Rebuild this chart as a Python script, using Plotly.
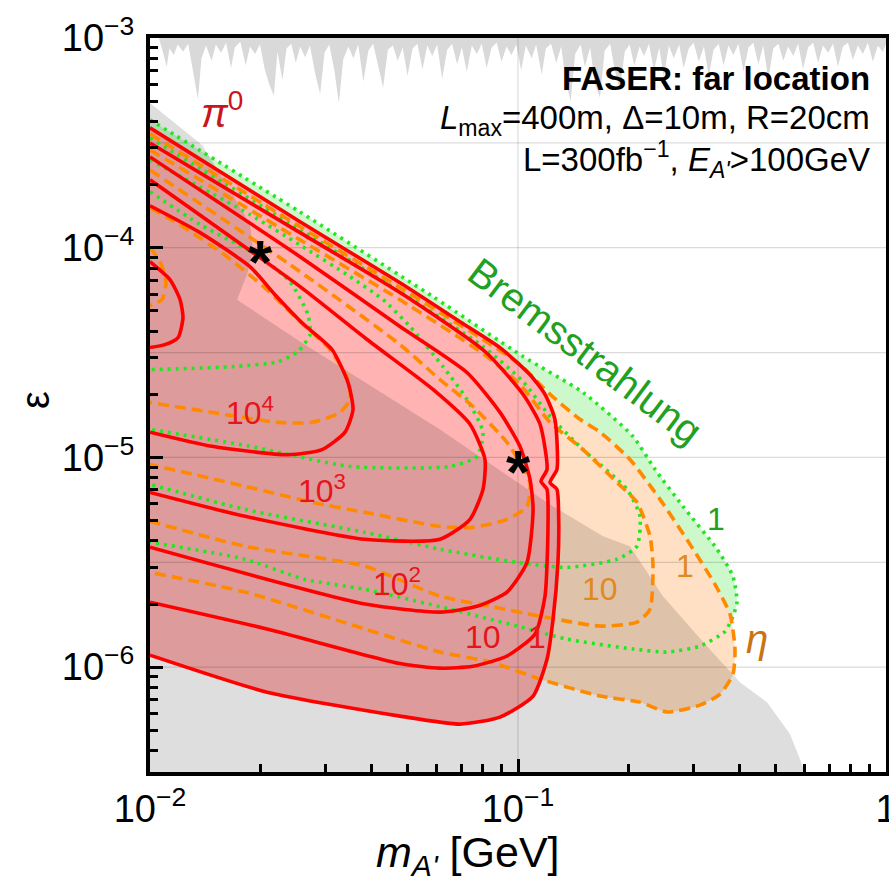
import math
import plotly.graph_objects as go

# ---------------- data (mass m [GeV], epsilon) ----------------
# pi0 contours (solid red), levels 1,10,1e2,1e3,1e4,1e5
R1_m = [0.0100, 0.02557, 0.04779, 0.06958, 0.08935, 0.1078, 0.1184, 0.1260, 0.1276, 0.1222, 0.1276, 0.1290, 0.1284, 0.1245, 0.1199, 0.1099, 0.08935, 0.06958, 0.04779, 0.02079, 0.0100]
R1_e = [3.73e-4, 1.33e-4, 6.81e-5, 4.44e-5, 3.34e-5, 2.48e-5, 2.00e-5, 1.52e-5, 8.77e-6, 7.60e-6, 7.04e-6, 5.07e-6, 3.16e-6, 1.69e-6, 1.09e-6, 7.28e-7, 5.78e-7, 5.35e-7, 5.84e-7, 7.60e-7, 1.14e-6]
R10_m = [0.0100, 0.02557, 0.04779, 0.08133, 0.1032, 0.1148, 0.1199, 0.1155, 0.1199, 0.1206, 0.1184, 0.1113, 0.09335, 0.07546, 0.06138, 0.04779, 0.02079, 0.0100]
R10_e = [3.16e-4, 1.18e-4, 6.11e-5, 3.20e-5, 2.00e-5, 1.44e-5, 8.77e-6, 7.69e-6, 7.04e-6, 4.54e-6, 2.18e-6, 1.44e-6, 1.13e-6, 1.01e-6, 9.89e-7, 1.04e-6, 1.52e-6, 2.04e-6]
R100_m = [0.0100, 0.02557, 0.04779, 0.07267, 0.08935, 0.1012, 0.1078, 0.1099, 0.1058, 0.09335, 0.07737, 0.06138, 0.03839, 0.0100]
R100_e = [2.71e-4, 9.06e-5, 4.21e-5, 2.54e-5, 1.64e-5, 1.13e-5, 7.86e-6, 5.65e-6, 3.16e-6, 2.28e-6, 1.95e-6, 1.83e-6, 2.00e-6, 3.73e-6]
R1e3_m = [0.0100, 0.02557, 0.03889, 0.05875, 0.07406, 0.08133, 0.08032, 0.07406, 0.06138, 0.03839, 0.01812, 0.0100]
R1e3_e = [2.11e-4, 6.52e-5, 3.65e-5, 2.11e-5, 1.44e-5, 9.78e-6, 7.04e-6, 5.07e-6, 4.07e-6, 4.07e-6, 5.24e-6, 6.81e-6]
R1e4_m = [0.0100, 0.01368, 0.01869, 0.02186, 0.02588, 0.03123, 0.03451, 0.03561, 0.03388, 0.02934, 0.02371, 0.01474, 0.0100]
R1e4_e = [1.585e-4, 1.18e-4, 8.12e-5, 5.97e-5, 4.39e-5, 3.27e-5, 2.28e-5, 1.69e-5, 1.32e-5, 1.09e-5, 1.03e-5, 1.13e-5, 1.32e-5]
R1e5_m = [0.0100, 0.01133, 0.01207, 0.01229, 0.01192, 0.01098, 0.0100]
R1e5_e = [8.58e-5, 7.04e-5, 5.65e-5, 4.64e-5, 3.73e-5, 3.45e-5, 3.34e-5]

# eta contours (dashed orange), levels 1,10,1e2,1e3,1e4
O1_m = [0.0100, 0.02557, 0.04779, 0.07884, 0.1012, 0.1222, 0.1474, 0.1671, 0.2015, 0.2432, 0.2934, 0.3430, 0.3768, 0.3887, 0.3838, 0.3540, 0.3123, 0.2541, 0.2145, 0.1671, 0.1148, 0.08394, 0.06138, 0.03839, 0.01812, 0.0100]
O1_e = [3.49e-4, 1.26e-4, 6.45e-5, 3.73e-5, 2.77e-5, 2.00e-5, 1.52e-5, 1.32e-5, 9.78e-6, 6.31e-6, 3.85e-6, 2.48e-6, 1.79e-6, 1.22e-6, 9.26e-7, 7.44e-7, 6.59e-7, 6.11e-7, 6.81e-7, 7.28e-7, 8.77e-7, 1.06e-6, 1.18e-6, 1.52e-6, 2.28e-6, 2.83e-6]
O10_m = [0.0100, 0.02557, 0.04779, 0.07884, 0.1012, 0.1222, 0.1502, 0.1858, 0.2105, 0.2284, 0.2327, 0.2284, 0.2105, 0.1671, 0.1148, 0.08394, 0.06138, 0.03839, 0.01812, 0.0100]
O10_e = [2.93e-4, 1.09e-4, 5.65e-5, 3.20e-5, 2.23e-5, 1.47e-5, 1.09e-5, 7.60e-6, 6.11e-6, 4.21e-6, 3.03e-6, 1.89e-6, 1.64e-6, 1.57e-6, 1.75e-6, 1.95e-6, 2.18e-6, 3.03e-6, 3.77e-6, 4.96e-6]
O100_m = [0.0100, 0.02557, 0.04779, 0.06138, 0.07546, 0.09335, 0.1012, 0.1078, 0.1058, 0.09335, 0.07546, 0.06138, 0.03839, 0.02755, 0.01812, 0.0100]
O100_e = [2.35e-4, 7.69e-5, 3.45e-5, 2.35e-5, 1.75e-5, 1.18e-5, 9.47e-6, 7.60e-6, 5.84e-6, 5.07e-6, 4.64e-6, 4.69e-6, 5.47e-6, 6.11e-6, 7.28e-6, 9.26e-6]
O1e3_m = [0.0100, 0.01229, 0.01619, 0.02079, 0.02557, 0.03084, 0.03451, 0.03496, 0.03283, 0.02755, 0.02227, 0.01474, 0.0100]
O1e3_e = [1.55e-4, 1.26e-4, 9.06e-5, 6.31e-5, 4.44e-5, 3.27e-5, 2.35e-5, 1.89e-5, 1.64e-5, 1.47e-5, 1.47e-5, 1.64e-5, 1.83e-5]
O1e4_m = [0.0100, 0.01065, 0.01105, 0.01078, 0.0100]
O1e4_e = [1.00e-4, 8.58e-5, 6.88e-5, 5.65e-5, 5.30e-5]

# Bremsstrahlung contours (dotted green), levels 1,10,1e2,1e3
G1_m = [0.0100, 0.02557, 0.05875, 0.1032, 0.1502, 0.2053, 0.2357, 0.2808, 0.3474, 0.3838, 0.3936, 0.3838, 0.3652, 0.3123, 0.2541, 0.2053, 0.1359, 0.09938, 0.06535, 0.03839, 0.02637, 0.01812, 0.0100]
G1_e = [4.07e-4, 1.48e-4, 5.84e-5, 3.03e-5, 2.04e-5, 1.26e-5, 8.77e-6, 5.84e-6, 3.65e-6, 2.71e-6, 2.04e-6, 1.75e-6, 1.48e-6, 1.26e-6, 1.18e-6, 1.22e-6, 1.36e-6, 1.57e-6, 1.89e-6, 2.35e-6, 2.62e-6, 3.27e-6, 3.94e-6]
G10_m = [0.0100, 0.02557, 0.04779, 0.08032, 0.1032, 0.1222, 0.1502, 0.1978, 0.2145, 0.2105, 0.1858, 0.1359, 0.09938, 0.06138, 0.03839, 0.01812, 0.0100]
G10_e = [3.34e-4, 1.22e-4, 6.17e-5, 3.38e-5, 2.30e-5, 1.57e-5, 1.09e-5, 7.04e-6, 5.24e-6, 3.77e-6, 3.27e-6, 2.99e-6, 3.16e-6, 3.65e-6, 4.39e-6, 5.65e-6, 7.44e-6]
G100_m = [0.0100, 0.01869, 0.02557, 0.03496, 0.04298, 0.05088, 0.06256, 0.07267, 0.08032, 0.07737, 0.06535, 0.03496, 0.01869, 0.0100]
G100_e = [2.62e-4, 1.44e-4, 1.03e-4, 7.28e-5, 5.65e-5, 4.21e-5, 2.71e-5, 1.89e-5, 1.32e-5, 1.01e-5, 9.06e-6, 9.06e-6, 1.13e-5, 1.36e-5]
G1e3_m = [0.0100, 0.01368, 0.01990, 0.02401, 0.02687, 0.02722, 0.02525, 0.02227, 0.01681, 0.0100]
G1e3_e = [1.85e-4, 1.29e-4, 9.06e-5, 6.88e-5, 4.80e-5, 3.85e-5, 3.20e-5, 2.86e-5, 2.71e-5, 2.62e-5]

# excluded regions (gray): beam dumps (bottom) and prompt searches (top, jagged)
dump_m = [0.0100, 0.01169, 0.01385, 0.01650, 0.01869, 0.01906, 0.01835, 0.01724, 0.02557, 0.03839, 0.06138, 0.1222, 0.1702, 0.2015, 0.2186, 0.2477, 0.3181, 0.4011, 0.4750, 0.5484, 0.6100, 0.0100]
dump_e = [4.90e-4, 3.94e-4, 3.09e-4, 1.89e-4, 1.29e-4, 9.78e-5, 7.44e-5, 5.65e-5, 3.57e-5, 2.28e-5, 1.36e-5, 5.97e-6, 4.21e-6, 3.77e-6, 3.03e-6, 2.18e-6, 1.32e-6, 8.48e-7, 6.81e-7, 4.80e-7, 3.0e-7, 3.0e-7]

top_m = [0.0106, 0.0108, 0.0111, 0.0113, 0.0116, 0.0119, 0.0123, 0.0127, 0.0131, 0.0135, 0.0138, 0.0142, 0.0147, 0.0151, 0.0156, 0.0161, 0.0166, 0.0170, 0.0176, 0.0182, 0.0187, 0.0193, 0.0199, 0.0205, 0.0211, 0.0217, 0.0222, 0.0229, 0.0235, 0.0242, 0.0249, 0.0256, 0.0264, 0.0272, 0.0281, 0.0290, 0.0298, 0.0307, 0.0317, 0.0326, 0.0335, 0.0346, 0.0357, 0.0368, 0.0380, 0.0392, 0.0404, 0.0417, 0.0430, 0.0443, 0.0457, 0.0471, 0.0486, 0.0501, 0.0517, 0.0533, 0.0550, 0.0567, 0.0585, 0.0603, 0.0622, 0.0642, 0.0662, 0.0683, 0.0704, 0.0726, 0.0749, 0.0773, 0.0797, 0.0822, 0.0848, 0.0875, 0.0902, 0.0931, 0.0960, 0.0990, 0.102, 0.105, 0.109, 0.112, 0.116, 0.119, 0.123, 0.127, 0.131, 0.135, 0.139, 0.143, 0.148, 0.152, 0.157, 0.162, 0.167, 0.172, 0.178, 0.183, 0.189, 0.195, 0.201, 0.207, 0.214, 0.220, 0.227, 0.234, 0.242, 0.249, 0.257, 0.265, 0.274, 0.282, 0.291, 0.300, 0.310, 0.320, 0.330, 0.340, 0.351, 0.362, 0.373, 0.385, 0.397, 0.410, 0.423, 0.436, 0.450, 0.464, 0.479, 0.494, 0.510, 0.526, 0.542, 0.560, 0.577, 0.595, 0.614, 0.634, 0.654, 0.674, 0.696, 0.718, 0.740, 0.764, 0.788, 0.813, 0.839, 0.865, 0.893, 0.921, 0.950, 0.980, 1.0]
top_e = [9.8e-4, 8.8e-4, 7.3e-4, 8.9e-4, 8.3e-4, 9.3e-4, 8.6e-4, 9.4e-4, 7.0e-4, 5.1e-4, 8.0e-4, 9.2e-4, 7.8e-4, 9.3e-4, 8.5e-4, 9.5e-4, 7.2e-4, 9.0e-4, 9.6e-4, 7.4e-4, 9.1e-4, 8.4e-4, 9.3e-4, 7.1e-4, 6.0e-4, 5.3e-4, 8.6e-4, 6.3e-4, 8.9e-4, 9.4e-4, 7.6e-4, 9.1e-4, 8.1e-4, 9.2e-4, 6.8e-4, 5.4e-4, 8.5e-4, 9.3e-4, 7.0e-4, 4.9e-4, 7.9e-4, 9.1e-4, 8.0e-4, 9.3e-4, 6.2e-4, 8.7e-4, 9.4e-4, 7.3e-4, 5.8e-4, 8.8e-4, 9.2e-4, 7.8e-4, 9.0e-4, 6.6e-4, 8.9e-4, 9.4e-4, 7.1e-4, 9.2e-4, 8.2e-4, 9.3e-4, 6.4e-4, 8.8e-4, 9.4e-4, 7.5e-4, 9.0e-4, 6.9e-4, 9.2e-4, 8.4e-4, 9.4e-4, 7.2e-4, 9.0e-4, 9.5e-4, 7.7e-4, 9.1e-4, 8.3e-4, 9.3e-4, 7.0e-4, 9.2e-4, 8.0e-4, 9.3e-4, 6.7e-4, 8.9e-4, 9.4e-4, 7.6e-4, 9.1e-4, 6.2e-4, 5.0e-4, 8.4e-4, 9.3e-4, 7.3e-4, 9.0e-4, 6.0e-4, 5.2e-4, 8.7e-4, 9.4e-4, 7.1e-4, 5.6e-4, 8.6e-4, 9.3e-4, 7.4e-4, 9.1e-4, 8.2e-4, 9.4e-4, 7.0e-4, 9.0e-4, 6.5e-4, 9.2e-4, 8.0e-4, 9.3e-4, 7.2e-4, 8.9e-4, 9.5e-4, 7.7e-4, 9.1e-4, 6.6e-4, 8.8e-4, 9.4e-4, 7.4e-4, 9.2e-4, 8.3e-4, 9.4e-4, 6.9e-4, 9.0e-4, 9.5e-4, 7.5e-4, 9.2e-4, 6.4e-4, 8.9e-4, 9.4e-4, 7.8e-4, 9.1e-4, 8.2e-4, 9.4e-4, 7.1e-4, 9.0e-4, 9.5e-4, 7.6e-4, 9.2e-4, 8.5e-4, 9.4e-4, 7.3e-4, 9.1e-4, 9.5e-4, 7.9e-4, 9.2e-4, 8.4e-4, 9.5e-4, 7.7e-4, 9.2e-4, 8.6e-4, 9.3e-4]

# benchmark points
star_m = [0.02, 0.1]
star_e = [1e-4, 1e-5]

# axes
x_major = [0.01, 0.1, 1]
x_major_text = ["10<sup>\u22122</sup>", "10<sup>\u22121</sup>", "1"]
x_minor = [k * 0.01 for k in range(2, 10)] + [k * 0.1 for k in range(2, 10)]
y_major = [1e-6, 1e-5, 1e-4, 1e-3]
y_major_text = ["10<sup>\u22126</sup>", "10<sup>\u22125</sup>", "10<sup>\u22124</sup>", "10<sup>\u22123</sup>"]
y_minor = [k * 1e-7 for k in range(4, 10)] + [k * 1e-6 for k in range(2, 10)] + \
          [k * 1e-5 for k in range(2, 10)] + [k * 1e-4 for k in range(2, 10)]
grid_y = [3.162e-4, 1e-4, 3.162e-5, 1e-5, 3.162e-6, 1e-6]
grid_x = [0.1]

# contour labels: (text, m, eps, color)
labels = [
    ("10<sup>4</sup>", 0.01869, 1.66e-5, "#e8141b"),
    ("10<sup>3</sup>", 0.02934, 7.04e-6, "#e8141b"),
    ("10<sup>2</sup>", 0.04691, 2.54e-6, "#e8141b"),
    ("10", 0.08032, 1.40e-6, "#e8141b"),
    ("1", 0.1126, 1.40e-6, "#e8141b"),
    ("10", 0.1671, 2.35e-6, "#e08a1e"),
    ("1", 0.2843, 3.03e-6, "#e08a1e"),
    ("1", 0.3451, 5.07e-6, "#22a022"),
]

FONT = "Liberation Sans, Arial, sans-serif"
fig = go.Figure()


def fill(m, e, color, shape="spline"):
    fig.add_trace(go.Scatter(x=m, y=e, mode="lines", fill="toself", fillcolor=color,
                             line=dict(width=0, shape=shape, smoothing=0.6),
                             hoverinfo="skip", showlegend=False))


def curve(m, e, color, width, dash):
    fig.add_trace(go.Scatter(x=m, y=e, mode="lines",
                             line=dict(color=color, width=width, dash=dash, shape="spline", smoothing=0.6),
                             hoverinfo="skip", showlegend=False))


# filled sensitivity regions
fill(G1_m, G1_e, "#ccf8cc")
fill(O1_m, O1_e, "#ffe0c4")
fill(R1_m, R1_e, "#ffb3b3")
# excluded regions
fill(dump_m, dump_e, "rgba(0,0,0,0.13)", shape="linear")
fill([top_m[0]] + top_m + [1.0], [1e-3] + top_e + [1e-3], "#d9d9d9", shape="linear")

# grid lines
for gy in grid_y:
    fig.add_trace(go.Scatter(x=[0.01, 1], y=[gy, gy], mode="lines",
                             line=dict(color="rgba(0,0,0,0.14)", width=1.2),
                             hoverinfo="skip", showlegend=False))
for gx in grid_x:
    fig.add_trace(go.Scatter(x=[gx, gx], y=[3e-7, 1e-3], mode="lines",
                             line=dict(color="rgba(0,0,0,0.14)", width=1.2),
                             hoverinfo="skip", showlegend=False))

GREEN = "#22e622"
ORANGE = "#ff8a00"
RED = "#ff0000"
for m, e in [(G1_m, G1_e), (G10_m, G10_e), (G100_m, G100_e), (G1e3_m, G1e3_e)]:
    curve(m, e, GREEN, 3.6, "3px,5px")
for m, e in [(O1_m, O1_e), (O10_m, O10_e), (O100_m, O100_e), (O1e3_m, O1e3_e), (O1e4_m, O1e4_e)]:
    curve(m, e, ORANGE, 3.6, "11px,6px")
for m, e in [(R1_m, R1_e), (R10_m, R10_e), (R100_m, R100_e), (R1e3_m, R1e3_e), (R1e4_m, R1e4_e), (R1e5_m, R1e5_e)]:
    curve(m, e, RED, 3.6, "solid")

L = math.log10
ann = []
for txt, m, e, col in labels:
    ann.append(dict(x=L(m), y=L(e), xref="x", yref="y", text=txt, showarrow=False,
                    font=dict(family=FONT, size=32, color=col)))
for m, e in zip(star_m, star_e):
    ann.append(dict(x=L(m), y=L(e), xref="x", yref="y", text="<b>*</b>", showarrow=False,
                    yshift=-14, font=dict(family=FONT, size=62, color="black")))
ann += [
    dict(x=L(0.01569), y=L(4.54e-4), xref="x", yref="y", text="<i>\u03c0</i><sup>0</sup>", showarrow=False,
         font=dict(family=FONT, size=40, color="#c8161c")),
    dict(x=L(0.4462), y=L(1.36e-6), xref="x", yref="y", text="<i>\u03b7</i>", showarrow=False,
         font=dict(family=FONT, size=40, color="#c87412")),
    dict(x=L(0.1521), y=L(3.20e-5), xref="x", yref="y", text="Bremsstrahlung", showarrow=False,
         textangle=37, font=dict(family=FONT, size=40, color="#22a022")),
    dict(x=0.981, y=0.9455, xref="paper", yref="paper", xanchor="right", yanchor="middle",
         text="<b>FASER: far location</b>", showarrow=False, font=dict(family=FONT, size=33, color="black")),
    dict(x=0.981, y=0.8883, xref="paper", yref="paper", xanchor="right", yanchor="middle",
         text="<i>L</i><sub>max</sub>=400m, \u0394=10m, R=20cm", showarrow=False,
         font=dict(family=FONT, size=33, color="black")),
    dict(x=0.981, y=0.8338, xref="paper", yref="paper", xanchor="right", yanchor="middle",
         text="L=300fb<sup>\u22121</sup>, <i>E<sub>A'</sub></i>&gt;100GeV", showarrow=False,
         font=dict(family=FONT, size=33, color="black")),
    dict(x=0.432, y=-0.113, xref="paper", yref="paper", xanchor="center", yanchor="middle",
         text="<i>m<sub>A'</sub></i> [GeV]", showarrow=False, font=dict(family=FONT, size=43, color="black")),
    dict(x=-0.156, y=0.507, xref="paper", yref="paper", xanchor="center", yanchor="middle",
         text="\u03b5", textangle=-90, showarrow=False, font=dict(family=FONT, size=40, color="black")),
]

axis_common = dict(type="log", tickmode="array", ticks="inside", ticklen=13, tickwidth=3, tickcolor="black",
                   showline=True, linewidth=4, linecolor="black", mirror=True, showgrid=False, zeroline=False,
                   ticklabeloverflow="allow", automargin=False,
                   tickfont=dict(family=FONT, size=38, color="black"))
fig.update_xaxes(range=[-2, 0], tickvals=x_major, ticktext=x_major_text,
                 minor=dict(tickmode="array", tickvals=x_minor, ticks="inside", ticklen=8, tickwidth=3,
                            tickcolor="black", showgrid=False), **axis_common)
fig.update_yaxes(range=[-6.5, -3], tickvals=y_major, ticktext=y_major_text, ticklabelstandoff=4,
                 minor=dict(tickmode="array", tickvals=y_minor, ticks="inside", ticklen=8, tickwidth=3,
                            tickcolor="black", showgrid=False), **axis_common)
fig.update_layout(width=889, height=885, margin=dict(l=150, r=3, t=38, b=113),
                  plot_bgcolor="white", paper_bgcolor="white", showlegend=False,
                  font=dict(family=FONT, color="black"), annotations=ann)
fig.write_html("out.html")
